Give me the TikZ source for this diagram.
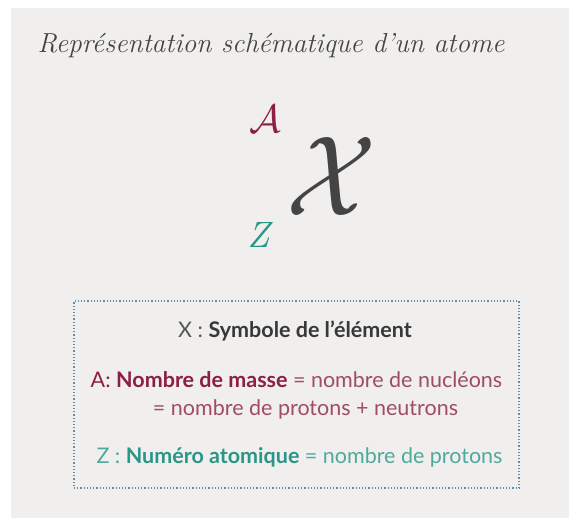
\documentclass[tikz,border=0pt]{standalone}
\usepackage{fontspec}
\newfontfamily\lato{Lato}
\definecolor{panel}{HTML}{F0EFEE}
\definecolor{titlegray}{HTML}{444444}
\definecolor{maroon}{HTML}{8C1F44}
\definecolor{maroonlight}{HTML}{A04C66}
\definecolor{tealbold}{HTML}{2A9688}
\definecolor{teallight}{HTML}{4FA99D}
\definecolor{graylight}{HTML}{555555}
\definecolor{graydark}{HTML}{383838}
\definecolor{dotblue}{HTML}{5E8FA6}
\tikzset{
  boxtext/.style={font=\lato\fontsize{21.5}{26}\selectfont, anchor=base, inner sep=0pt},
  glyph/.style={inner sep=0pt},
}
\begin{document}
\begin{tikzpicture}[x=1pt,y=-1pt]
\fill[white] (0,0) rectangle (569,518);
\fill[panel] (11,8) rectangle (569,518);
\useasboundingbox (0,0) rectangle (569,518);
\node[font=\itshape\fontsize{27.5}{33}\selectfont, text=titlegray, anchor=base, inner sep=0pt] (title) at (271,53) {Représentation schématique d’un atome};
\node[glyph, text=maroon] (A) at (265,119) {\resizebox{!}{27pt}{$\mathcal{A}$}};
\node[glyph, text=titlegray] (X) at (332,176) {\resizebox{90pt}{78pt}{$\mathcal{X}$}};
\node[glyph, text=tealbold] (Z) at (259,235) {\resizebox{!}{25pt}{\itshape Z}};
\node[draw=dotblue, dotted, line width=1.2pt, minimum width=445pt, minimum height=187pt, inner sep=0pt] (box) at (296.5,394.5) {};
\node[boxtext] (l1) at (295,337) {\textcolor{graylight}{X :} \textcolor{graydark}{\bfseries Symbole de l’élément}};
\node[boxtext] (l2) at (296.5,387) {\textcolor{maroon}{A: \bfseries Nombre de masse} \textcolor{maroonlight}{= nombre de nucléons}};
\node[boxtext, text=maroonlight] (l3) at (305.5,415) {= nombre de protons + neutrons};
\node[boxtext] (l4) at (299.5,463) {\textcolor{teallight}{Z :} \textcolor{tealbold}{\bfseries Numéro atomique} \textcolor{teallight}{= nombre de protons}};
\end{tikzpicture}
\end{document}
